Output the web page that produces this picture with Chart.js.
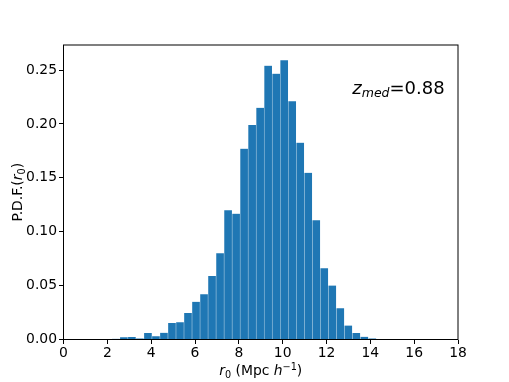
<!DOCTYPE html>
<html>
<head>
<meta charset="utf-8">
<script src="https://cdn.jsdelivr.net/npm/chart.js@4.4.0/dist/chart.umd.min.js"></script>
<style>
    html, body { margin: 0; padding: 0; background: #fff; }
    #wrap { width: 509px; height: 382px; }
</style>
</head>
<body>
<div id="wrap"><canvas id="histChart"></canvas></div>
<script>
// Centros de los bins del histograma (r0, Mpc/h)
const binCenters = [
    1.293, 1.659, 2.024, 2.390, 2.756, 3.121, 3.487, 3.853, 4.219, 4.584,
    4.950, 5.316, 5.681, 6.047, 6.413, 6.778, 7.144, 7.510, 7.876, 8.241,
    8.607, 8.973, 9.338, 9.704, 10.070, 10.435, 10.801, 11.167, 11.533, 11.898,
    12.264, 12.630, 12.995, 13.361, 13.727, 14.092
];

// Densidad de probabilidad
const pdfValues = [
    0.0005, 0.0002, 0.0002, 0.0007, 0.0020, 0.0023, 0.0010, 0.0060, 0.0030, 0.0063,
    0.0153, 0.0160, 0.0246, 0.0350, 0.0420, 0.0590, 0.0800, 0.1200, 0.1167, 0.1770,
    0.1990, 0.2150, 0.2540, 0.2466, 0.2590, 0.2210, 0.1826, 0.1547, 0.1106, 0.0660,
    0.0500, 0.0290, 0.0130, 0.0060, 0.0025, 0.0010
];

// Etiquetas de los ejes
const xTicks = [0, 2, 4, 6, 8, 10, 12, 14, 16, 18];
const yTicks = [0.00, 0.05, 0.10, 0.15, 0.20, 0.25];
const zMedLabel = '0.88';

const fontFamily = "'DejaVu Sans', sans-serif";
const tamTexto = 13.9;
const tamSub = 9.7;

// Dibuja el marco, las etiquetas de los ejes y la anotacion
const textoPlugin = {
    id: 'textoPlugin',
    afterDraw(chart) {
        const ctx = chart.ctx;
        const area = chart.chartArea;
        ctx.save();

        // Marco completo como en matplotlib
        ctx.strokeStyle = '#000';
        ctx.lineWidth = 1;
        ctx.strokeRect(area.left, area.top, area.right - area.left, area.bottom - area.top);

        ctx.fillStyle = '#000';
        ctx.textBaseline = 'alphabetic';

        // Etiqueta eje x: r0 (Mpc h^-1)
        const partesX = [
            { t: 'r', f: 'italic ' + tamTexto + 'px ' + fontFamily, dy: 0 },
            { t: '0', f: tamSub + 'px ' + fontFamily, dy: 2.5 },
            { t: ' (Mpc ', f: tamTexto + 'px ' + fontFamily, dy: 0 },
            { t: 'h', f: 'italic ' + tamTexto + 'px ' + fontFamily, dy: 0 },
            { t: '\u22121', f: tamSub + 'px ' + fontFamily, dy: -5.5 },
            { t: ')', f: tamTexto + 'px ' + fontFamily, dy: 0 }
        ];
        dibujarPartes(ctx, partesX, (area.left + area.right) / 2, 375);

        // Etiqueta eje y: P.D.F.(r0)
        ctx.save();
        ctx.translate(22, (area.top + area.bottom) / 2);
        ctx.rotate(-Math.PI / 2);
        const partesY = [
            { t: 'P.D.F.(', f: tamTexto + 'px ' + fontFamily, dy: 0 },
            { t: 'r', f: 'italic ' + tamTexto + 'px ' + fontFamily, dy: 0 },
            { t: '0', f: tamSub + 'px ' + fontFamily, dy: 2.5 },
            { t: ')', f: tamTexto + 'px ' + fontFamily, dy: 0 }
        ];
        dibujarPartes(ctx, partesY, 0, 0);
        ctx.restore();

        // Anotacion z_med
        const xz = area.left + (area.right - area.left) * 0.732;
        const yz = area.top + (area.bottom - area.top) * 0.1675;
        const partesZ = [
            { t: 'z', f: 'italic 18px ' + fontFamily, dy: 0 },
            { t: 'med', f: 'italic 12.5px ' + fontFamily, dy: 3 },
            { t: '=' + zMedLabel, f: '18px ' + fontFamily, dy: 0 }
        ];
        let x = xz;
        ctx.textAlign = 'left';
        partesZ.forEach(p => {
            ctx.font = p.f;
            ctx.fillText(p.t, x, yz + p.dy);
            x += ctx.measureText(p.t).width;
        });

        ctx.restore();
    }
};

function dibujarPartes(ctx, partes, cx, baseline) {
    let total = 0;
    partes.forEach(p => {
        ctx.font = p.f;
        total += ctx.measureText(p.t).width;
    });
    let x = cx - total / 2;
    ctx.textAlign = 'left';
    partes.forEach(p => {
        ctx.font = p.f;
        ctx.fillText(p.t, x, baseline + p.dy);
        x += ctx.measureText(p.t).width;
    });
}

const datos = binCenters.map((c, i) => ({ x: c, y: pdfValues[i] }));

new Chart(document.getElementById('histChart'), {
    type: 'bar',
    data: {
        datasets: [{
            data: datos,
            backgroundColor: '#1f77b4',
            borderColor: 'rgba(255, 255, 255, 0.18)',
            borderWidth: { left: 0.5, right: 0.5, top: 0, bottom: 0 },
            barPercentage: 1.0,
            categoryPercentage: 1.0
        }]
    },
    options: {
        responsive: true,
        maintainAspectRatio: false,
        animation: false,
        layout: {
            padding: { top: 45, right: 51, left: 0, bottom: 0 }
        },
        plugins: {
            legend: { display: false },
            tooltip: { enabled: false }
        },
        scales: {
            x: {
                type: 'linear',
                offset: false,
                min: 0,
                max: 18,
                afterBuildTicks: scale => {
                    scale.ticks = xTicks.map(v => ({ value: v }));
                },
                afterFit: scale => { scale.height = 42.5; },
                grid: {
                    offset: false,
                    drawOnChartArea: false,
                    drawTicks: true,
                    tickLength: 4.5,
                    color: '#000',
                    lineWidth: 1
                },
                border: { display: false },
                ticks: {
                    color: '#000',
                    padding: 1,
                    maxRotation: 0,
                    font: { family: fontFamily, size: tamTexto },
                    callback: v => String(v)
                }
            },
            y: {
                min: 0,
                max: 0.2732,
                afterBuildTicks: scale => {
                    scale.ticks = yTicks.map(v => ({ value: v }));
                },
                afterFit: scale => { scale.width = 63.5; },
                grid: {
                    offset: false,
                    drawOnChartArea: false,
                    drawTicks: true,
                    tickLength: 4.5,
                    color: '#000',
                    lineWidth: 1
                },
                border: { display: false },
                ticks: {
                    color: '#000',
                    padding: 2,
                    font: { family: fontFamily, size: tamTexto },
                    callback: v => v.toFixed(2)
                }
            }
        }
    },
    plugins: [textoPlugin]
});
</script>
</body>
</html>
